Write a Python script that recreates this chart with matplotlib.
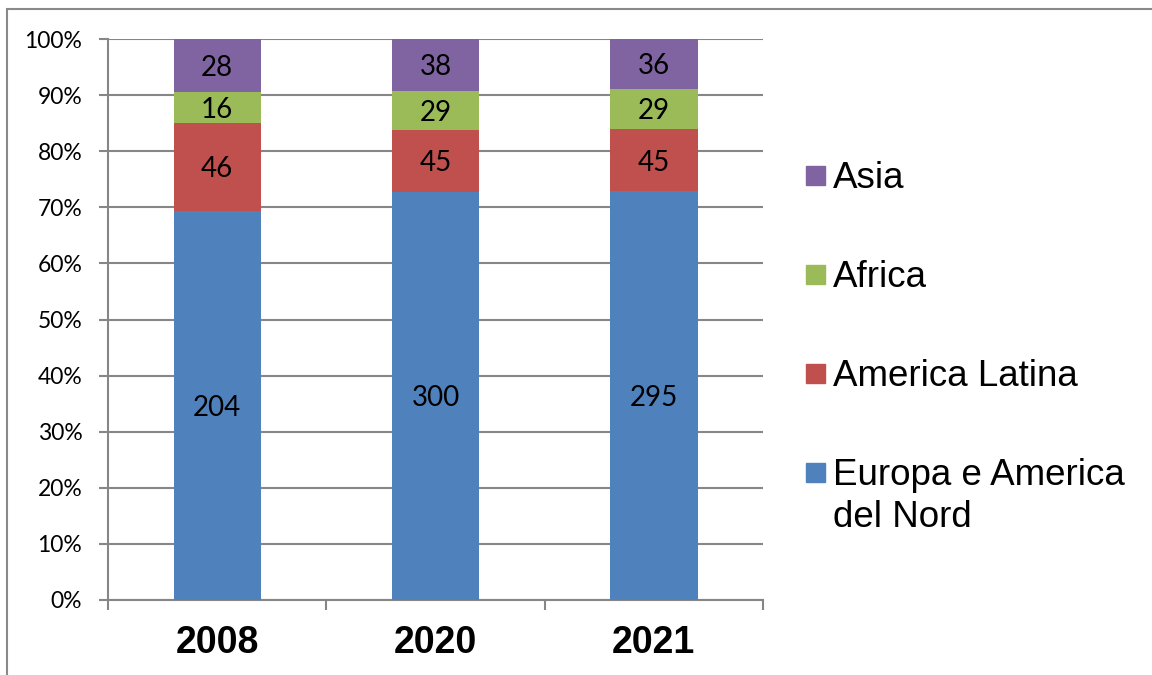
import numpy as np
import matplotlib.pyplot as plt
from matplotlib.patches import Rectangle

years = ['2008', '2020', '2021']
regions = ['Europa e America\ndel Nord', 'America Latina', 'Africa', 'Asia']
europa_nord = [204, 300, 295]
america_latina = [46, 45, 45]
africa = [16, 29, 29]
asia = [28, 38, 36]
colors = ['#4F81BD', '#C0504D', '#9BBB59', '#8064A2']

counts = np.array([europa_nord, america_latina, africa, asia], dtype=float)
shares = counts / counts.sum(axis=0) * 100

W, H = 1152, 675
fig = plt.figure(figsize=(W / 100, H / 100), dpi=100)
ax = fig.add_axes([108 / W, 75 / H, (763 - 108) / W, (600 - 39) / H])

x = np.arange(len(years))
bottom = np.zeros(len(years))
for vals, share, col in zip(counts, shares, colors):
    bars = ax.bar(x, share, 0.4, bottom=bottom, color=col, zorder=3)
    labs = ax.bar_label(bars, labels=[str(int(v)) for v in vals], label_type='center',
                        fontsize=20, family='Lato', color='black')
    for t in labs:
        t.set_va('center_baseline')
    bottom += share

grid_col = '#868686'
ax.set_xlim(-0.5, 2.5)
ax.set_ylim(0, 100)
ax.set_yticks(np.arange(0, 101, 10))
ax.set_yticklabels([f'{v}%' for v in range(0, 101, 10)], family='Lato', fontsize=16.5)
ax.yaxis.grid(True, color=grid_col, linewidth=1.5, zorder=0)
ax.tick_params(axis='y', length=6.5, width=1.5, color=grid_col, pad=12)

ax.set_xticks(x)
ax.set_xticklabels(years, fontsize=27, fontweight='bold', family='Liberation Sans')
ax.set_xticks([-0.5, 0.5, 1.5, 2.5], minor=True)
ax.tick_params(axis='x', which='major', length=0, pad=18)
ax.tick_params(axis='x', which='minor', length=7, width=1.5, color=grid_col)

for s in ['top', 'right']:
    ax.spines[s].set_visible(False)
for s in ['left', 'bottom']:
    ax.spines[s].set_color(grid_col)
    ax.spines[s].set_linewidth(1.5)

# legend, drawn by hand so the square sits on the first text line
for i, (name, col) in enumerate(zip(regions[::-1], colors[::-1])):
    base = 188 + 99 * i
    fig.patches.append(Rectangle((806 / W, 1 - (base - 3) / H), 19 / W, 19 / H,
                                 transform=fig.transFigure, color=col))
    # baseline alignment goes by the last line, so push multi-line labels down
    last = base + 42 * name.count('\n')
    fig.text(833 / W, 1 - last / H, name, va='baseline', ha='left',
             family='Liberation Sans', fontsize=26.5, linespacing=1.27)

# outer chart border
fig.patches.append(Rectangle((7 / W, -0.1), 2, 1.1 - 9 / H, transform=fig.transFigure,
                             fill=False, edgecolor='#898989', linewidth=1.5))

fig.savefig('out.png', dpi=100)
